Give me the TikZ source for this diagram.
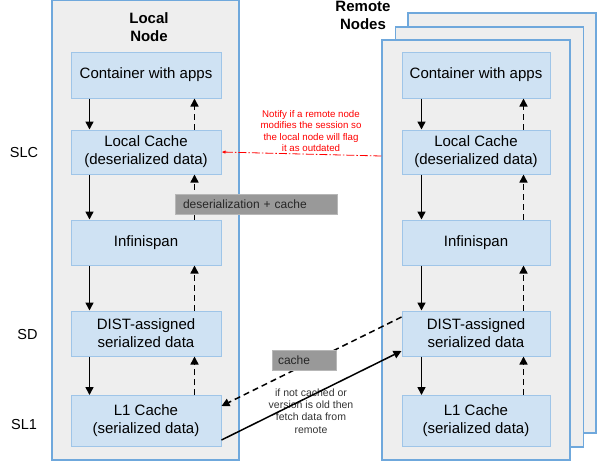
\documentclass[tikz,border=0pt]{standalone}
\usepackage{fontspec}
\setmainfont{Liberation Sans}
\usetikzlibrary{arrows.meta}

\definecolor{framefill}{HTML}{EEEEEE}
\definecolor{framedraw}{HTML}{6FA8DC}
\definecolor{layerfill}{HTML}{CFE2F3}
\definecolor{layerdraw}{HTML}{9FC5E8}
\definecolor{tagfill}{HTML}{999999}
\definecolor{tagdraw}{HTML}{B7B7B7}

\tikzset{
  frame/.style={draw=framedraw, fill=framefill, line width=1.5pt, minimum width=188pt, minimum height=420pt, inner sep=0pt},
  layer/.style={draw=layerdraw, fill=layerfill, line width=1pt, inner sep=0pt, align=center, font=\fontsize{15}{18}\selectfont},
  flow/.style={line width=1.5pt, -{Triangle[length=8pt,width=8pt]}},
  back/.style={flow, dash pattern=on 6pt off 4pt},
  tag/.style={draw=tagdraw, fill=tagfill, line width=1pt, minimum height=20pt, align=left, text=black!85, font=\fontsize{12}{14}\selectfont},
  side/.style={font=\fontsize{14.5}{17}\selectfont},
  title/.style={font=\bfseries\fontsize{15}{18}\selectfont, align=center},
}

\begin{document}
\begin{tikzpicture}[x=1pt, y=-1pt]
\useasboundingbox (0,0) rectangle (597,461);

% node frames
\node[frame, minimum width=187pt, minimum height=460pt] (l-front) at (145.5,230) {};
\node[frame] (r-back) at (502,223) {};
\node[frame] (r-mid) at (489.5,237) {};
\node[frame] (r-front) at (476,250) {};

\node[title] (l-title) at (149,27) {Local\\Node};
\node[title] (r-title) at (363,15) {Remote\\Nodes};

% layers, same stack on both sides
\foreach \s/\x/\w in {l/146/150, r/476/148} {
  \foreach \n/\y/\h/\txt in {app/75/46/{Container with apps},
                             lc/152/44/{Local Cache\\(deserialized data)},
                             inf/242.5/45/{Infinispan},
                             dist/333.5/45/{DIST-assigned\\serialized data},
                             lone/421/51/{L1 Cache\\(serialized data)}}
    \node[layer, minimum width=\w pt, minimum height=\h pt] (\s-\n) at (\x,\y) {\txt};
}

\node[side] (slc) at (24,153) {SLC};
\node[side] (sd) at (27.5,335) {SD};
\node[side] (sl1) at (24,425) {SL1};

% down / up between layers
\foreach \s/\dn/\up in {l/19/124, r/20/122} {
  \foreach \a/\b in {app/lc, lc/inf, inf/dist, dist/lone} {
    \draw[flow] ([xshift=\dn pt]\s-\a.south west) -- ([xshift=\dn pt]\s-\b.north west);
    \draw[back] ([xshift=\up pt]\s-\b.north west) -- ([xshift=\up pt]\s-\a.south west);
  }
}

% notify
\node[align=center, text=red, font=\fontsize{9.7}{11.6}\selectfont] (notify) at (311,131)
  {Notify if a remote node\\modifies the session so\\the local node will flag\\it as outdated};
\draw[red, line width=0.8pt, dash pattern=on 8pt off 2pt on 1.5pt off 2pt, -{Latex[length=4pt,width=3.5pt]}]
  (r-front.west |- 0,156) -- (l-lc.east);

% fetch from remote
\node[align=center, text=black!80, font=\fontsize{10.5}{12.4}\selectfont] (fetch) at (311,411)
  {if not cached or\\version is old then\\fetch data from\\remote};
\draw[back] ([yshift=16.5pt]r-dist.west) -- ([yshift=15pt]l-lone.east);
\draw[flow] ([yshift=-19pt]l-lone.east) -- ([yshift=-17.5pt]r-dist.west);

\node[tag, text width=146pt, inner xsep=8pt] (deser) at (256,204) {deserialization + cache};
\node[tag, text width=52pt, inner xsep=6pt] (cache) at (304,360) {cache};
\end{tikzpicture}
\end{document}
